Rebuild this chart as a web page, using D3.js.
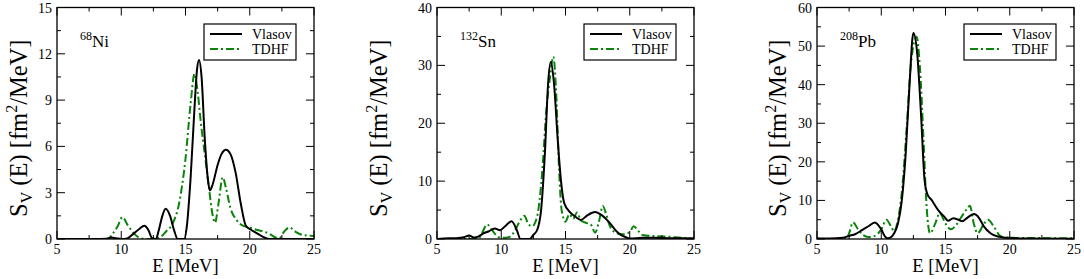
<!DOCTYPE html>
<html>
<head>
<meta charset="utf-8">
<script src="https://cdn.jsdelivr.net/npm/d3@7"></script>
<style>
  body { margin: 0; background: #fff; }
  svg text { font-family: "Liberation Serif", "Times New Roman", serif; fill: #000; }
</style>
</head>
<body>
<div id="chart"></div>
<script>
// ---- data: [E (MeV), S (fm^2/MeV)] ----
const niVlasov = [[5,0],[8,0],[8.8,0.02],[9.2,0.1],[9.6,0.05],[10,0],[10.4,0.02],[10.9,0.3],[11.4,0.65],[11.8,0.86],[12.1,0.6],[12.4,0.05],[12.7,0],
  [12.9,0.5],[13.2,1.5],[13.45,1.96],[13.8,1.5],[14.1,0.6],[14.4,0],[14.9,0],[15.1,0.8],[15.4,4],[15.7,8.5],[15.9,11],[16.05,11.6],
  [16.25,10.5],[16.5,6.5],[16.75,3.8],[16.9,3.15],[17.1,3.5],[17.5,4.8],[17.8,5.5],[18.15,5.78],[18.5,5.5],[18.9,4.3],[19.3,2.3],
  [19.7,0.85],[20.1,0.6],[20.5,0.4],[21,0.15],[21.5,0],[25,0]];
const niTdhf = [[5,0],[9,0],[9.3,0.3],[9.7,0.8],[10.1,1.42],[10.5,0.9],[11,0.35],[11.5,0.05],[12,0],[12.5,0],[13,0.1],[13.5,0.5],
  [14,1.0],[14.5,2.3],[15,5.2],[15.4,8.8],[15.7,10.7],[15.95,9.5],[16.2,7.5],[16.5,5.5],[16.8,3.5],[17.1,1.6],[17.3,1.05],[17.55,2.2],
  [17.9,4.0],[18.15,3.3],[18.5,2.0],[19,1.2],[19.5,0.85],[20,0.75],[20.5,0.6],[21,0.5],[21.5,0.35],[22,0.1],[22.3,0.05],[22.7,0.5],
  [23.1,0.75],[23.6,0.45],[24.2,0.25],[25,0.2]];

const snVlasov = [[5,0],[5.5,0.1],[6.5,0.15],[7.1,0.3],[7.5,0.6],[7.9,0.25],[8.2,0.4],[8.55,0.9],[9.0,1.3],[9.5,1.8],[9.9,1.5],[10.3,2.2],
  [10.8,3.05],[11.2,1.6],[11.5,0],[12.2,0],[12.5,0.7],[12.8,1.6],[13.1,5],[13.4,15],[13.65,27],[13.85,30.6],[14.1,27],[14.4,17],
  [14.65,10],[14.9,6.2],[15.4,4.5],[15.8,3.8],[16.2,3.3],[16.7,4.1],[17.3,4.65],[17.7,4.3],[18.1,3.6],[18.5,2.6],[18.9,1.5],
  [19.3,0.7],[19.7,0.3],[20,0.1],[21,0.2],[22,0.2],[23,0.15],[25,0.1]];
const snTdhf = [[5,0],[8.2,0],[8.5,1.0],[8.9,2.5],[9.3,1.5],[9.8,0.3],[10.3,0.2],[10.7,0.4],[11.1,1.6],[11.5,3.3],[11.8,4.0],[12.1,2.6],
  [12.4,2.2],[12.8,4],[13.2,12],[13.5,22],[13.8,28],[14.05,31.5],[14.3,24],[14.5,12],[14.7,5],[15.0,3],[15.3,4.3],[15.6,3.5],
  [15.9,4.6],[16.2,3.2],[16.6,2.8],[17.0,2.4],[17.3,1.1],[17.6,3],[17.9,5.7],[18.2,4],[18.5,2],[19,1.0],[19.5,0.8],[20,1.2],
  [20.3,2.2],[20.7,1.3],[21,0.7],[22,0.5],[23,0.4],[24,0.2],[25,0.1]];

const pbVlasov = [[5,0.2],[6,0.1],[7,0.3],[7.5,0.8],[8,1.3],[8.5,2.3],[9,3.3],[9.5,4.3],[10,2.5],[10.3,0.6],[10.5,0.2],[10.8,0.6],
  [11,1.5],[11.3,4],[11.6,10],[11.9,22],[12.2,40],[12.5,53.4],[12.8,48],[13.1,32],[13.37,15.3],[13.6,11.5],[13.9,10.2],
  [14.4,7.6],[14.6,6.8],[14.9,5.8],[15.2,4.7],[15.6,5.4],[16,5.0],[16.3,4.6],[16.7,5.5],[17.2,6.45],[17.6,5.5],[18,3.2],
  [18.5,1.5],[19,0.7],[19.5,0.4],[20,0.3],[21,0.15],[25,0.05]];
const pbTdhf = [[5,0],[7.3,0],[7.5,1.5],[7.8,4.3],[8.2,2.5],[8.6,1],[9,0.5],[9.5,0.8],[10,2.5],[10.4,5.0],[10.8,3],[11,2],
  [11.3,5],[11.6,12],[12.0,30],[12.3,45],[12.75,52.4],[13.0,45],[13.3,25],[13.5,10],[13.8,1.5],[14.2,4],[14.55,6.7],[15,4],
  [15.4,2.5],[15.8,3.5],[16.2,5.5],[16.6,7.5],[16.9,8.6],[17.2,4],[17.5,1.5],[18,4],[18.3,5],[18.8,3],[19.2,1],[19.6,0.4],
  [20,0.3],[25,0.2]];

const nuclei = [
  { mass: "68", sym: "Ni", vlasov: niVlasov, tdhf: niTdhf, yMax: 15, yStep: 3 },
  { mass: "132", sym: "Sn", vlasov: snVlasov, tdhf: snTdhf, yMax: 40, yStep: 10 },
  { mass: "208", sym: "Pb", vlasov: pbVlasov, tdhf: pbTdhf, yMax: 60, yStep: 10 }
];
const xDomain = [5, 25];
const xStep = 5;
const seriesNames = ["Vlasov", "TDHF"];

// ---- layout ----
const W = 1084, H = 279;
const panelLeft = [57, 437, 817];
const yLabelOffset = [38, 58, 39];
const plotW = 257, plotTop = 7.5, plotH = 231.5;
const green = "#0a840a";

const svg = d3.select("#chart").append("svg")
  .attr("width", W).attr("height", H);

nuclei.forEach((nuc, i) => {
  const left = panelLeft[i];
  const g = svg.append("g").attr("transform", `translate(${left},${plotTop})`);

  const x = d3.scaleLinear().domain(xDomain).range([0, plotW]);
  const y = d3.scaleLinear().domain([0, nuc.yMax]).range([plotH, 0]);

  const xMajor = d3.range(xDomain[0], xDomain[1] + 0.01, xStep);
  const xMinor = d3.range(xDomain[0] + xStep / 2, xDomain[1], xStep);
  const yMajor = d3.range(0, nuc.yMax + 0.01, nuc.yStep);
  const yMinor = d3.range(nuc.yStep / 2, nuc.yMax, nuc.yStep);

  // clip the curves to the frame
  g.append("clipPath").attr("id", `clip${i}`)
    .append("rect").attr("width", plotW).attr("height", plotH);

  const line = d3.line()
    .x(d => x(d[0]))
    .y(d => y(d[1]))
    .curve(d3.curveMonotoneX);

  const curves = g.append("g").attr("clip-path", `url(#clip${i})`);
  curves.append("path")
    .attr("d", line(nuc.tdhf))
    .attr("fill", "none")
    .attr("stroke", green)
    .attr("stroke-width", 2)
    .attr("stroke-dasharray", "8,3,2,3");
  curves.append("path")
    .attr("d", line(nuc.vlasov))
    .attr("fill", "none")
    .attr("stroke", "#000")
    .attr("stroke-width", 2);

  // inward ticks on all four sides
  const tickLayer = g.append("g").attr("stroke", "#000").attr("stroke-width", 1);
  const addXTicks = (vals, len) => {
    vals.forEach(v => {
      tickLayer.append("line").attr("x1", x(v)).attr("x2", x(v)).attr("y1", plotH).attr("y2", plotH - len);
      tickLayer.append("line").attr("x1", x(v)).attr("x2", x(v)).attr("y1", 0).attr("y2", len);
    });
  };
  const addYTicks = (vals, len) => {
    vals.forEach(v => {
      tickLayer.append("line").attr("x1", 0).attr("x2", len).attr("y1", y(v)).attr("y2", y(v));
      tickLayer.append("line").attr("x1", plotW).attr("x2", plotW - len).attr("y1", y(v)).attr("y2", y(v));
    });
  };
  addXTicks(xMajor, 8);
  addXTicks(xMinor, 4);
  addYTicks(yMajor, 8);
  addYTicks(yMinor, 4);

  g.append("rect")
    .attr("width", plotW).attr("height", plotH)
    .attr("fill", "none").attr("stroke", "#000").attr("stroke-width", 1.3);

  // tick labels
  g.selectAll(".xl").data(xMajor).join("text")
    .attr("class", "xl")
    .attr("x", d => x(d)).attr("y", plotH + 15)
    .attr("text-anchor", "middle").attr("font-size", 14)
    .text(d => d);
  g.selectAll(".yl").data(yMajor).join("text")
    .attr("class", "yl")
    .attr("x", -5).attr("y", d => y(d) + 5)
    .attr("text-anchor", "end").attr("font-size", 14)
    .text(d => d);

  // axis titles
  g.append("text")
    .attr("x", plotW / 2).attr("y", plotH + 33)
    .attr("text-anchor", "middle").attr("font-size", 18.5)
    .text("E [MeV]");

  const yt = g.append("text")
    .attr("transform", `translate(${-yLabelOffset[i] + 8},${plotH / 2 + 5}) rotate(-90)`)
    .attr("text-anchor", "middle").attr("font-size", 24.5);
  yt.append("tspan").text("S");
  yt.append("tspan").attr("font-size", 16).attr("dy", 5).text("V");
  yt.append("tspan").attr("dy", -5).text(" (E) [fm");
  yt.append("tspan").attr("font-size", 16).attr("dy", -10).text("2");
  yt.append("tspan").attr("dy", 10).text("/MeV]");

  // nucleus label
  const nl = g.append("text").attr("x", 23).attr("y", 46.5 - plotTop).attr("font-size", 17);
  nl.append("tspan").attr("font-size", 12).attr("dy", -7).text(nuc.mass);
  nl.append("tspan").attr("dy", 7).text(nuc.sym);

  // legend
  const lg = g.append("g").attr("transform", `translate(${plotW - 110},${24 - plotTop})`);
  lg.append("rect").attr("width", 92).attr("height", 36)
    .attr("fill", "#fff").attr("stroke", "#000").attr("stroke-width", 1.2);
  seriesNames.forEach((name, k) => {
    const yy = 10 + k * 15;
    lg.append("line")
      .attr("x1", 6).attr("x2", 38).attr("y1", yy).attr("y2", yy)
      .attr("stroke", k === 0 ? "#000" : green)
      .attr("stroke-width", 2)
      .attr("stroke-dasharray", k === 0 ? null : "8,3,2,3");
    lg.append("text")
      .attr("x", 48).attr("y", yy + 5)
      .attr("font-size", 14)
      .text(name);
  });
});
</script>
</body>
</html>
